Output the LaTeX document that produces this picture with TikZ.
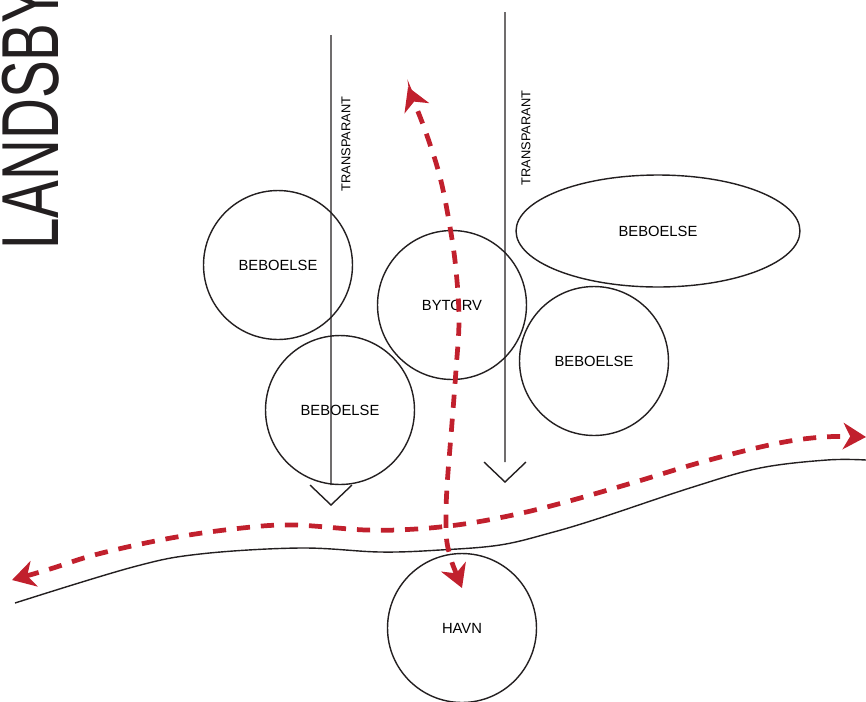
\documentclass[tikz,border=0pt]{standalone}
\usepackage{fontspec}
\setmainfont{Liberation Sans}
\usepackage{graphicx}
\usepackage{tikz}
\usetikzlibrary{arrows.meta, shapes.geometric}

\definecolor{rutered}{RGB}{193,32,45}
\definecolor{streg}{RGB}{35,31,32}

\begin{document}
\begin{tikzpicture}[x=0.02cm, y=-0.02cm,
		bolig/.style={draw=streg, line width=0.8pt, circle, minimum size=2.98cm, inner sep=0pt, font=\fontsize{8.4}{10}\selectfont},
		akse/.style={draw=streg, line width=0.8pt},
		akselabel/.style={rotate=90, inner sep=0pt, font=\fontsize{7.3}{9}\selectfont},
		rute/.style={draw=rutered, line width=2.7pt, dash pattern=on 7.5pt off 6.2pt,
			{Stealth[length=13pt, width=15pt, inset=4pt]}-{Stealth[length=13pt, width=15pt, inset=4pt]}}]
	
		\useasboundingbox (0,0) rectangle (866,701);
		
		\node[rotate=90, anchor=base west, inner sep=0pt, text=streg, font=\fontsize{46}{46}\selectfont] (landsby) at (58,250) {\scalebox{0.7}[1]{LANDSBY}};
		
		% kyst
		\draw[streg, line width=0.8pt] plot[smooth, tension=0.6] coordinates {(15,603) (133,567) (200,554) (300,548) (380,552) (440,550) (500,545) (550,533) (600,518) (693,487) (760,468) (827,460) (866,460)};
		
		\node[bolig] (bolig1) at (278,265) {BEBOELSE};
		\node[bolig] (bolig2) at (340,410) {BEBOELSE};
		\node[bolig] (bytorv) at (452,305) {BYTORV};
		\node[bolig] (bolig3) at (594,361) {BEBOELSE};
		\node[bolig] (havn) at (462,628) {HAVN};
		\node[draw=streg, line width=0.8pt, ellipse, minimum width=5.68cm, minimum height=2.24cm, inner sep=0pt, font=\fontsize{8.4}{10}\selectfont] (bolig4) at (658,231) {BEBOELSE};
		
		% transparante akser
		\coordinate (t1top) at (331,35);
		\coordinate (t1end) at (331,485);
		\coordinate (t2top) at (505,12);
		\coordinate (t2end) at (505,462);
		\draw[akse] (t1top) -- (t1end) ++(-21,0) -- ++(21,20) -- ++(21,-20);
		\draw[akse] (t2top) -- (t2end) ++(-21,0) -- ++(21,20) -- ++(21,-20);
		\node[akselabel] (tlabel1) at (346,144) {TRANSPARANT};
		\node[akselabel] (tlabel2) at (526,138) {TRANSPARANT};
		
		% ruter
		\coordinate (vest) at (12,580);
		\coordinate (oest) at (866,437);
		\coordinate (nord) at (408,87);
		\coordinate (syd) at (462,588);
		\draw[rute] plot[smooth, tension=0.6] coordinates {(vest) (50,569) (98,554) (171,538) (242,528) (294,525) (366,530) (416,529) (464,524) (513,515) (562,503) (632,483) (702,462) (774,444) (823,437) (oest)};
		\draw[rute] plot[smooth, tension=0.6] coordinates {(syd) (449,552) (446,527) (447,487) (452,423) (456,370) (459,320) (456,270) (450,227) (440,177) (425,130) (nord)};
		
\end{tikzpicture}
\end{document}
